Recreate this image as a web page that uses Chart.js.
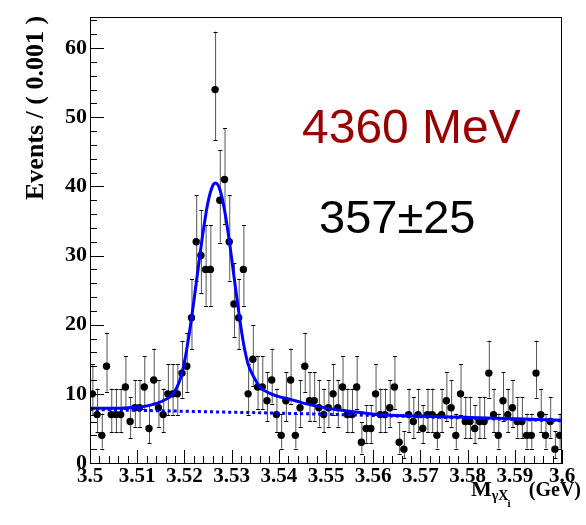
<!DOCTYPE html>
<html lang="en">
<head>
<meta charset="UTF-8">
<title>M(gamma X_i) fit at 4360 MeV</title>
<script src="https://cdn.jsdelivr.net/npm/chart.js"></script>
<style>
  html, body { margin: 0; padding: 0; background: #fff; }
  #wrap { width: 586px; height: 525px; }
</style>
</head>
<body>
<div id="wrap"><canvas id="massChart"></canvas></div>
<script>
// histogram: 100 bins of 0.001 GeV between 3.50 and 3.60
const binLow = 3.5;
const binWidth = 0.001;
const counts = [
  10, 7, 4, 14, 7, 7, 7, 11, 6, 8,
  8, 11, 5, 12, 8, 7, 10, 10, 10, 13,
  14, 21, 32, 30, 28, 28, 54, 38, 41, 32,
  23, 21, 28, 10, 15, 11, 11, 9, 12, 7,
  4, 9, 12, 4, 8, 14, 9, 9, 8, 7,
  8, 10, 8, 11, 7, 7, 11, 3, 5, 5,
  10, 7, 7, 8, 11, 3, 2, 7, 6, 7,
  5, 7, 7, 4, 7, 9, 8, 4, 10, 6,
  6, 5, 6, 6, 13, 7, 4, 9, 7, 8,
  6, 6, 4, 4, 13, 7, 4, 6, 2, 4
];

// total fit curve
const fitX = [3.500, 3.505, 3.508, 3.511, 3.513, 3.5155, 3.5176, 3.519, 3.520, 3.521,
              3.522, 3.523, 3.524, 3.525, 3.526, 3.5266, 3.5275, 3.5285, 3.5295, 3.5305,
              3.5315, 3.5325, 3.5335, 3.5345, 3.536, 3.538, 3.540, 3.5425, 3.545, 3.5505,
              3.555, 3.561, 3.570, 3.580, 3.590, 3.600];
const fitY = [7.9, 7.9, 8.0, 8.15, 8.4, 9.0, 10.0, 11.9, 14.6, 18.6,
              23.4, 28.6, 33.6, 37.7, 40.1, 40.5, 39.6, 36.6, 32.2, 27.0,
              21.9, 17.4, 14.3, 12.7, 11.0, 10.1, 9.6, 9.2, 8.7, 7.9,
              7.5, 7.0, 6.8, 6.6, 6.4, 6.2];

// background component (dotted)
const bgX = [3.50, 3.55, 3.60];
const bgY = [7.75, 7.05, 6.1];

const xTicks = [3.5, 3.51, 3.52, 3.53, 3.54, 3.55, 3.56, 3.57, 3.58, 3.59, 3.6];
const yTicks = [0, 10, 20, 30, 40, 50, 60];

const serif = '"Liberation Serif", "Times New Roman", serif';
const sans = '"Liberation Sans", Arial, sans-serif';

// approximate Poisson 68% interval (Wilson-Hilferty)
function poissonLow(n) {
  if (n <= 0) return 0;
  return n * Math.pow(1 - 1 / (9 * n) - 1 / (3 * Math.sqrt(n)), 3);
}
function poissonHigh(n) {
  const m = n + 1;
  return m * Math.pow(1 - 1 / (9 * m) + 1 / (3 * Math.sqrt(m)), 3);
}

const points = counts.map((c, i) => ({ x: binLow + (i + 0.5) * binWidth, y: c }));

const errorBars = {
  id: 'errorBars',
  beforeDatasetsDraw(chart) {
    const { ctx, scales: { x, y } } = chart;
    ctx.save();
    points.forEach(p => {
      const px = x.getPixelForValue(p.x);
      const top = y.getPixelForValue(poissonHigh(p.y));
      const bot = y.getPixelForValue(poissonLow(p.y));
      ctx.strokeStyle = '#555';
      ctx.lineWidth = 1;
      ctx.beginPath();
      ctx.moveTo(px + 0.5, top);
      ctx.lineTo(px + 0.5, bot);
      ctx.stroke();
      ctx.strokeStyle = '#000';
      ctx.beginPath();
      ctx.moveTo(px - 1.5, Math.round(top) + 0.5);
      ctx.lineTo(px + 2.5, Math.round(top) + 0.5);
      ctx.moveTo(px - 1.5, Math.round(bot) + 0.5);
      ctx.lineTo(px + 2.5, Math.round(bot) + 0.5);
      ctx.stroke();
    });
    ctx.restore();
  }
};

const frameAndText = {
  id: 'frameAndText',
  afterDraw(chart) {
    const { ctx, chartArea: a, scales: { x, y } } = chart;
    ctx.save();
    ctx.strokeStyle = '#000';
    ctx.lineWidth = 1;
    ctx.strokeRect(a.left + 0.5, a.top + 0.5, a.right - a.left - 1, a.bottom - a.top);

    // inward tick marks
    ctx.beginPath();
    for (let k = 0; k <= 32; k++) {
      const v = k * 2;
      if (v > y.max) break;
      const py = Math.round(y.getPixelForValue(v)) + 0.5;
      const len = (v % 10 === 0) ? 14 : 7;
      ctx.moveTo(a.left, py);
      ctx.lineTo(a.left + len, py);
    }
    for (let k = 0; k <= 50; k++) {
      const v = binLow + k * 0.002;
      const px = Math.round(x.getPixelForValue(v)) + 0.5;
      const len = (k % 5 === 0) ? 13 : 7;
      ctx.moveTo(px, a.bottom);
      ctx.lineTo(px, a.bottom - len);
    }
    ctx.stroke();

    // y axis title
    ctx.fillStyle = '#000';
    ctx.save();
    ctx.translate(43, 200);
    ctx.rotate(-Math.PI / 2);
    ctx.font = 'bold 26px ' + serif;
    ctx.textAlign = 'left';
    ctx.textBaseline = 'alphabetic';
    ctx.fillText('Events / ( 0.001 )', 0, 0);
    ctx.restore();

    // x axis title  M_{γX_i}(GeV)
    ctx.textBaseline = 'alphabetic';
    ctx.textAlign = 'left';
    ctx.font = 'bold 22px ' + serif;
    ctx.fillText('M', 471, 496);
    let cx = 471 + ctx.measureText('M').width;
    ctx.font = 'bold 14px ' + serif;
    ctx.fillText('γX', cx, 500);
    cx += ctx.measureText('γX').width;
    ctx.font = 'bold 11px ' + serif;
    ctx.fillText('i', cx - 1, 507);
    ctx.font = 'bold 20px ' + serif;
    ctx.textAlign = 'right';
    ctx.fillText('(GeV)', 581, 496);

    // annotations
    ctx.textAlign = 'left';
    ctx.font = '48px ' + sans;
    ctx.fillStyle = '#990000';
    ctx.fillText('4360 MeV', 302, 143);
    ctx.font = '47px ' + sans;
    ctx.fillStyle = '#000';
    ctx.fillText('357\u00b125', 319, 233);
    ctx.restore();
  }
};

new Chart(document.getElementById('massChart'), {
  type: 'scatter',
  data: {
    datasets: [
      {
        label: 'fit',
        data: fitX.map((v, i) => ({ x: v, y: fitY[i] })),
        showLine: true,
        borderColor: '#0000ff',
        borderWidth: 3,
        pointRadius: 0,
        cubicInterpolationMode: 'monotone',
        order: 1
      },
      {
        label: 'background',
        data: bgX.map((v, i) => ({ x: v, y: bgY[i] })),
        showLine: true,
        borderColor: '#0000ff',
        borderWidth: 3,
        borderDash: [3, 3],
        pointRadius: 0,
        tension: 0.3,
        order: 2
      },
      {
        label: 'data',
        data: points,
        pointRadius: 3.7,
        pointBackgroundColor: '#000',
        pointBorderColor: '#000',
        pointBorderWidth: 0,
        order: 3
      }
    ]
  },
  options: {
    responsive: true,
    maintainAspectRatio: false,
    animation: false,
    layout: { padding: { top: 17, right: 24, left: 0, bottom: 0 } },
    plugins: { legend: { display: false }, tooltip: { enabled: false } },
    scales: {
      x: {
        type: 'linear',
        min: 3.5,
        max: 3.6,
        afterBuildTicks: s => { s.ticks = xTicks.map(v => ({ value: v })); },
        afterFit: s => { s.height = 62; },
        grid: { display: false, drawTicks: false },
        border: { display: true, color: '#000', width: 1 },
        ticks: {
          autoSkip: false,
          maxRotation: 0,
          padding: 1,
          color: '#000',
          font: { family: serif, size: 21, weight: 'bold' },
          callback: v => String(Number(v.toFixed(2)))
        }
      },
      y: {
        type: 'linear',
        min: 0,
        max: 64.5,
        afterBuildTicks: s => { s.ticks = yTicks.map(v => ({ value: v })); },
        afterFit: s => { s.width = 90; },
        grid: { display: false, drawTicks: false },
        border: { display: true, color: '#000', width: 1 },
        ticks: {
          autoSkip: false,
          padding: 3,
          color: '#000',
          font: { family: serif, size: 22, weight: 'bold' },
          callback: v => String(v)
        }
      }
    }
  },
  plugins: [errorBars, frameAndText]
});
</script>
</body>
</html>
